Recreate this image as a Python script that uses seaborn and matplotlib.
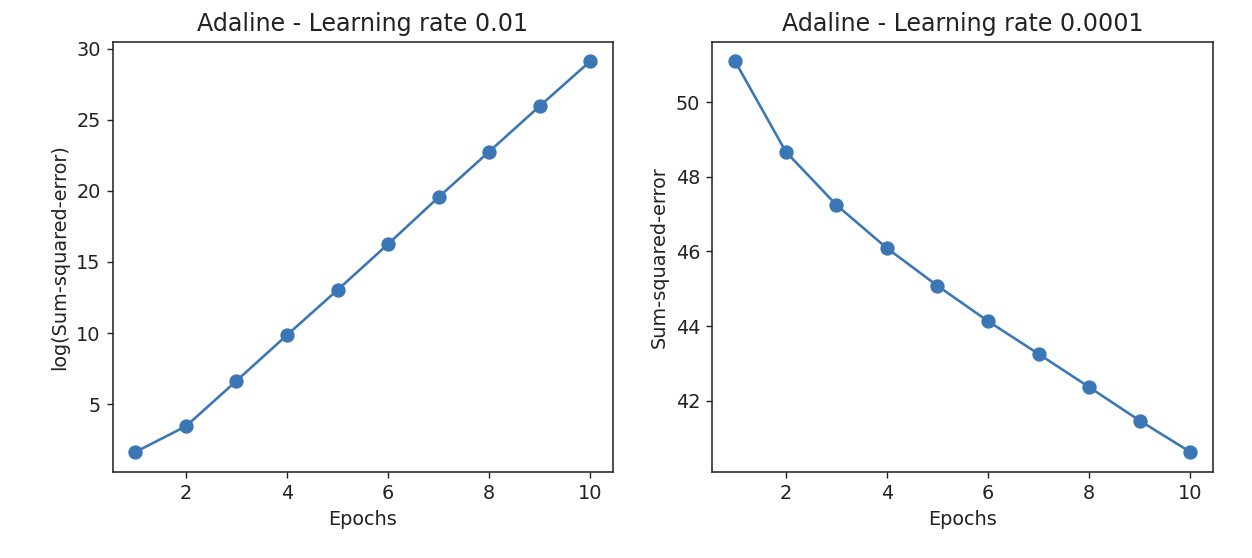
import pandas as pd
import matplotlib.pyplot as plt
import seaborn as sns

# values
epochs = [1, 2, 3, 4, 5, 6, 7, 8, 9, 10]
log_sse_lr001 = [1.64, 3.45, 6.64, 9.86, 13.03, 16.25, 19.55, 22.75, 25.95, 29.1]
sse_lr00001 = [51.1, 48.68, 47.25, 46.09, 45.08, 44.13, 43.25, 42.36, 41.46, 40.62]
xtick_vals = [2, 4, 6, 8, 10]

left_df = pd.DataFrame({'epoch': epochs, 'value': log_sse_lr001})
right_df = pd.DataFrame({'epoch': epochs, 'value': sse_lr00001})

sns.set_style('ticks')
plt.rcParams['font.family'] = ['DejaVu Sans']
plt.rcParams['axes.edgecolor'] = '#222222'
plt.rcParams['text.color'] = '#222222'
plt.rcParams['axes.labelcolor'] = '#222222'
plt.rcParams['xtick.color'] = '#222222'
plt.rcParams['ytick.color'] = '#222222'

line_color = '#3b77b4'

fig, ax = plt.subplots(1, 2, figsize=(1252 / 125, 558 / 125), dpi=125)
ax[0].set_position([0.090, 0.155, 0.3995, 0.770])
ax[1].set_position([0.569, 0.155, 0.3999, 0.770])

sns.lineplot(data=left_df, x='epoch', y='value', marker='o', color=line_color,
             markersize=7.5, markeredgecolor=line_color, linewidth=1.5, ax=ax[0])
ax[0].set_title('Adaline - Learning rate 0.01', fontsize=13.7)
ax[0].set_xlabel('Epochs', fontsize=11.1)
ax[0].set_ylabel('log(Sum-squared-error)', fontsize=11.1)

sns.lineplot(data=right_df, x='epoch', y='value', marker='o', color=line_color,
             markersize=7.5, markeredgecolor=line_color, linewidth=1.5, ax=ax[1])
ax[1].set_title('Adaline - Learning rate 0.0001', fontsize=13.7)
ax[1].set_xlabel('Epochs', fontsize=11.1)
ax[1].set_ylabel('Sum-squared-error', fontsize=11.1)

for a in ax:
    a.set_xticks(xtick_vals)
    a.tick_params(labelsize=11.1)
    for s in a.spines.values():
        s.set_linewidth(0.9)

plt.savefig('out.png', dpi=125)
